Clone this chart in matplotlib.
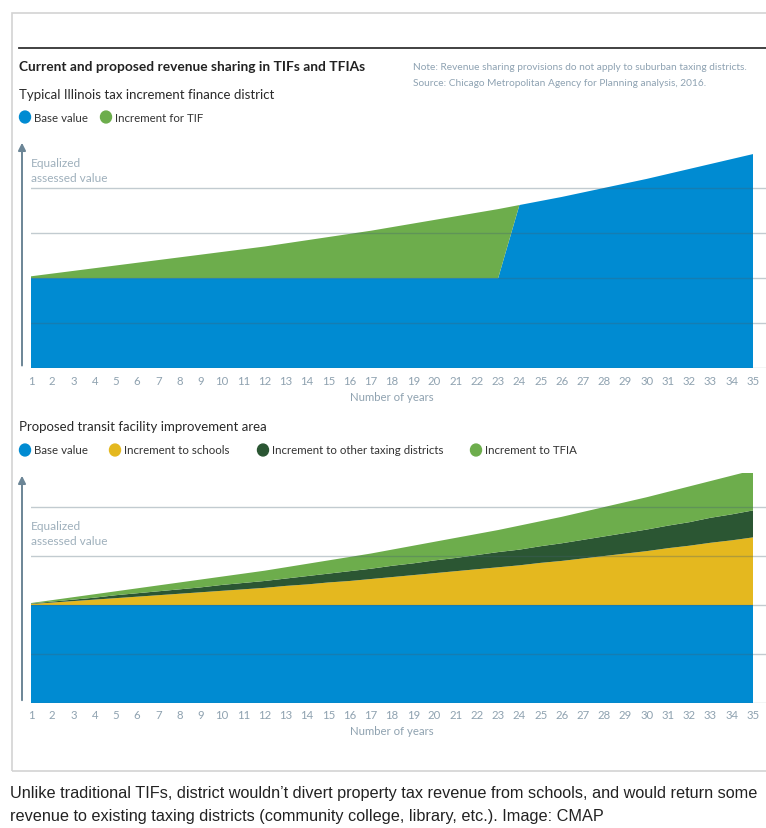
import matplotlib
matplotlib.use("Agg")
import matplotlib.pyplot as plt
from matplotlib.patches import Rectangle, Circle, FancyArrowPatch
from matplotlib.lines import Line2D

W, H = 766, 829

# ---------------- data ----------------
years = list(range(1, 36))
year_labels = [str(y) for y in years]

# Typical Illinois TIF
tif_base = [2.00, 2.00, 2.00, 2.00, 2.00, 2.00, 2.00, 2.00, 2.00, 2.00,
            2.00, 2.00, 2.00, 2.00, 2.00, 2.00, 2.00, 2.00, 2.00, 2.00,
            2.00, 2.00, 2.00, 3.62, 3.71, 3.80, 3.90, 4.00, 4.10, 4.20,
            4.31, 4.42, 4.53, 4.64, 4.75]
tif_increment = [0.04, 0.10, 0.16, 0.22, 0.28, 0.34, 0.40, 0.46, 0.52, 0.58,
                 0.64, 0.70, 0.77, 0.84, 0.91, 0.98, 1.05, 1.13, 1.21, 1.29,
                 1.37, 1.45, 1.53, 0.00, 0.00, 0.00, 0.00, 0.00, 0.00, 0.00,
                 0.00, 0.00, 0.00, 0.00, 0.00]

# Proposed TFIA
tfia_base = [2.00, 2.00, 2.00, 2.00, 2.00, 2.00, 2.00, 2.00, 2.00, 2.00,
             2.00, 2.00, 2.00, 2.00, 2.00, 2.00, 2.00, 2.00, 2.00, 2.00,
             2.00, 2.00, 2.00, 2.00, 2.00, 2.00, 2.00, 2.00, 2.00, 2.00,
             2.00, 2.00, 2.00, 2.00, 2.00]
tfia_schools = [0.02, 0.05, 0.08, 0.11, 0.14, 0.17, 0.20, 0.23, 0.26, 0.29,
                0.32, 0.35, 0.39, 0.42, 0.46, 0.49, 0.53, 0.57, 0.61, 0.65,
                0.69, 0.73, 0.77, 0.81, 0.86, 0.90, 0.95, 1.00, 1.05, 1.10,
                1.16, 1.21, 1.27, 1.32, 1.38]
tfia_other = [0.01, 0.02, 0.03, 0.04, 0.06, 0.07, 0.08, 0.09, 0.10, 0.12,
              0.13, 0.14, 0.15, 0.17, 0.18, 0.20, 0.21, 0.23, 0.24, 0.26,
              0.27, 0.29, 0.31, 0.32, 0.34, 0.36, 0.38, 0.40, 0.42, 0.44,
              0.46, 0.48, 0.51, 0.53, 0.55]
tfia_tfia = [0.01, 0.03, 0.05, 0.07, 0.08, 0.10, 0.12, 0.14, 0.16, 0.17,
             0.19, 0.21, 0.23, 0.25, 0.27, 0.29, 0.31, 0.33, 0.36, 0.38,
             0.41, 0.43, 0.45, 0.49, 0.51, 0.54, 0.57, 0.60, 0.63, 0.66,
             0.69, 0.73, 0.75, 0.79, 0.82]

top_legend = ["Base value", "Increment for TIF"]
bottom_legend = ["Base value", "Increment to schools",
                 "Increment to other taxing districts", "Increment to TFIA"]

# ---------------- style ----------------
BLUE = "#008bd2"
GREEN = "#6dad4c"
YELLOW = "#e4b81f"
DKGREEN = "#2b5633"
GRID = "#44606f"
TICK = "#8fa2b0"
LABEL = "#9fb0bc"
FONT = "Lato"

def fx(x):
    return x / W

def fy(y):
    return 1 - y / H

fig = plt.figure(figsize=(W / 100, H / 100), dpi=100)
fig.patch.set_facecolor("white")

# outer frame
fig.patches.append(Rectangle((fx(12), fy(772)), fx(800), fy(14) - fy(772),
                             transform=fig.transFigure, fill=False,
                             edgecolor="#d3d3d3", lw=1.2))
# top dark rule
fig.add_artist(Line2D([fx(19), fx(766)], [fy(49), fy(49)], color="#333333",
                      lw=1.3, transform=fig.transFigure))

fig.text(fx(19), fy(67), "Current and proposed revenue sharing in TIFs and TFIAs",
         fontsize=9.9, fontweight="bold", family=FONT, color="#222222", va="center")
fig.text(fx(413), fy(67), "Note: Revenue sharing provisions do not apply to suburban taxing districts.",
         fontsize=7.3, family=FONT, color="#8ea2b2", va="center")
fig.text(fx(413), fy(84), "Source: Chicago Metropolitan Agency for Planning analysis, 2016.",
         fontsize=7.3, family=FONT, color="#8ea2b2", va="center")


def legend(items, y):
    for (cx, tx, label, col) in items:
        fig.patches.append(Circle((fx(cx), fy(y)), radius=5.5 / W,
                                  transform=fig.transFigure, color=col))
        fig.text(fx(tx), fy(y), label, fontsize=8.3, family=FONT,
                 color="#333333", va="center")


def panel(bottom_px, top_px, unit_px, stacks, colors, sub_y, sub_text,
          leg_items, leg_y, lab_y):
    x0, x_right = 31, 766
    px_per_year = (753 - 31) / 34
    ax = fig.add_axes([fx(x0), fy(bottom_px), fx(x_right) - fx(x0),
                       fy(top_px) - fy(bottom_px)])
    ax.set_xlim(1, 1 + (x_right - x0) / px_per_year)
    ax.set_ylim(0, (bottom_px - top_px) / unit_px)
    ax.stackplot(years, *stacks, colors=colors, linewidth=0, zorder=2)
    for g in range(0, 5):
        ax.axhline(g, color=GRID, alpha=0.32, lw=1.0, zorder=5)
    for s in ax.spines.values():
        s.set_visible(False)
    ax.set_yticks([])
    ax.set_xticks(years)
    ax.set_xticklabels(year_labels, fontsize=8.2, family=FONT, color=TICK)
    ax.tick_params(axis="x", length=0, pad=4.5)
    ax.patch.set_alpha(0)
    fig.text(fx(392), fy(bottom_px + 28), "Number of years", fontsize=8.2,
             family=FONT, color=TICK, ha="center", va="center")
    fig.add_artist(FancyArrowPatch(
        (fx(22), fy(bottom_px)), (fx(22), fy(top_px)),
        transform=fig.transFigure, arrowstyle="-|>", mutation_scale=11,
        color="#6b8596", lw=1.4))
    fig.text(fx(31), fy(lab_y), "Equalized\nassessed value", fontsize=8.6,
             family=FONT, color=LABEL, va="center", linespacing=1.35)
    fig.text(fx(19), fy(sub_y), sub_text, fontsize=9.5, family=FONT,
             color="#2a2a2a", va="center")
    legend(leg_items, leg_y)
    return ax


panel(369.3, 141, 45.1, [tif_base, tif_increment], [BLUE, GREEN],
      95, "Typical Illinois tax increment finance district",
      [(25, 34, top_legend[0], BLUE), (106, 115, top_legend[1], GREEN)],
      118, 171)

panel(704, 474, 49.0, [tfia_base, tfia_schools, tfia_other, tfia_tfia],
      [BLUE, YELLOW, DKGREEN, GREEN],
      427, "Proposed transit facility improvement area",
      [(25, 34, bottom_legend[0], BLUE), (115, 124, bottom_legend[1], YELLOW),
       (263, 272, bottom_legend[2], DKGREEN), (476, 485, bottom_legend[3], GREEN)],
      451, 534)

fig.text(fx(10), fy(794),
         "Unlike traditional TIFs, district wouldn\u2019t divert property tax revenue from schools, and would return some",
         fontsize=11.7, family="Liberation Sans", color="#222222", va="center")
fig.text(fx(10), fy(817),
         "revenue to existing taxing districts (community college, library, etc.). Image: CMAP",
         fontsize=11.7, family="Liberation Sans", color="#222222", va="center")

fig.savefig("out.png", dpi=100)
